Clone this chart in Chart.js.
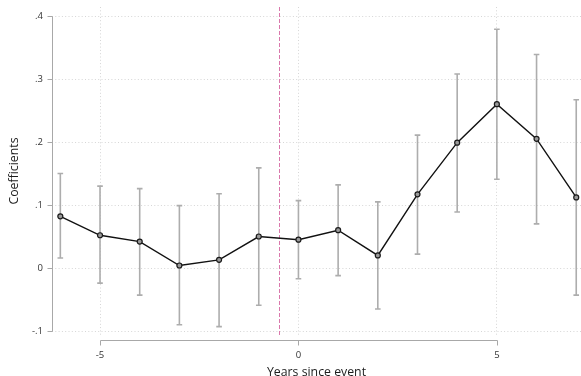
<!DOCTYPE html>
<html>
<head>
<meta charset="utf-8">
<script src="https://cdn.jsdelivr.net/npm/chart.js@4/dist/chart.umd.min.js"></script>
<style>
  html, body { margin: 0; padding: 0; background: #ffffff; }
  #wrap { width: 581px; height: 376px; position: relative; }
</style>
</head>
<body>
<div id="wrap"><canvas id="chart"></canvas></div>
<script>
// Event-study estimates by year relative to the event
const years     = [-6, -5, -4, -3, -2, -1, 0, 1, 2, 3, 4, 5, 6, 7];
const coef      = [0.082, 0.052, 0.042, 0.004, 0.013, 0.050, 0.045, 0.060, 0.020, 0.117, 0.199, 0.260, 0.205, 0.112];
const ciHigh    = [0.150, 0.130, 0.126, 0.099, 0.118, 0.159, 0.107, 0.132, 0.105, 0.211, 0.308, 0.379, 0.339, 0.267];
const ciLow     = [0.016, -0.024, -0.043, -0.090, -0.093, -0.059, -0.017, -0.012, -0.065, 0.022, 0.089, 0.141, 0.070, -0.043];

const xTicks      = [-5, 0, 5];
const xTickLabels = ['-5', '0', '5'];
const yTicks      = [-0.1, 0, 0.1, 0.2, 0.3, 0.4];
const yTickLabels = ['-.1', '0', '.1', '.2', '.3', '.4'];
const eventLine   = -0.5;

const FONT = "'Open Sans', 'DejaVu Sans', sans-serif";
const AXIS_COLOR = '#a8a8a8';

// Confidence-interval caps, the event marker and the short Stata-style axis lines
const decorations = {
  id: 'decorations',
  beforeDatasetsDraw(chart) {
    const { ctx, chartArea, scales: { x, y } } = chart;
    ctx.save();

    // vertical dashed line just before the event
    const ex = Math.round(x.getPixelForValue(eventLine)) + 0.5;
    ctx.strokeStyle = 'rgb(218, 120, 172)';
    ctx.lineWidth = 1;
    ctx.setLineDash([4, 2]);
    ctx.beginPath();
    ctx.moveTo(ex, chartArea.top);
    ctx.lineTo(ex, chartArea.bottom);
    ctx.stroke();
    ctx.setLineDash([]);

    // range caps
    ctx.strokeStyle = '#adadad';
    ctx.lineWidth = 1.6;
    const cap = 2.8;
    years.forEach((yr, i) => {
      const px = x.getPixelForValue(yr);
      const top = y.getPixelForValue(ciHigh[i]);
      const bot = y.getPixelForValue(ciLow[i]);
      ctx.beginPath();
      ctx.moveTo(px, top); ctx.lineTo(px, bot);
      ctx.moveTo(px - cap, top); ctx.lineTo(px + cap, top);
      ctx.moveTo(px - cap, bot); ctx.lineTo(px + cap, bot);
      ctx.stroke();
    });
    ctx.restore();
  },
  afterDraw(chart) {
    const { ctx, chartArea, scales: { x, y } } = chart;
    ctx.save();
    ctx.strokeStyle = AXIS_COLOR;
    ctx.lineWidth = 1;

    // y axis spans only the labelled range
    const ax = Math.round(chartArea.left) + 0.5;
    const yTop = Math.round(y.getPixelForValue(yTicks[yTicks.length - 1])) + 0.5;
    const yBot = Math.round(y.getPixelForValue(yTicks[0])) + 0.5;
    ctx.beginPath();
    ctx.moveTo(ax, yTop); ctx.lineTo(ax, yBot);
    yTicks.forEach(v => {
      const py = Math.round(y.getPixelForValue(v)) + 0.5;
      ctx.moveTo(ax - 5, py); ctx.lineTo(ax, py);
    });
    ctx.stroke();

    // x axis sits a little below the plot region
    const ay = Math.round(chartArea.bottom) + 5.5;
    const xL = Math.round(x.getPixelForValue(xTicks[0])) + 0.5;
    const xR = Math.round(x.getPixelForValue(xTicks[xTicks.length - 1])) + 0.5;
    ctx.beginPath();
    ctx.moveTo(xL, ay); ctx.lineTo(xR, ay);
    xTicks.forEach(v => {
      const px = Math.round(x.getPixelForValue(v)) + 0.5;
      ctx.moveTo(px, ay); ctx.lineTo(px, ay + 5);
    });
    ctx.stroke();
    ctx.restore();
  }
};

const gridStyle = { color: '#d6d6d6', lineWidth: 1, drawTicks: false };

new Chart(document.getElementById('chart'), {
  type: 'line',
  data: {
    datasets: [{
      data: years.map((yr, i) => ({ x: yr, y: coef[i] })),
      borderColor: '#111111',
      borderWidth: 1.4,
      pointRadius: 2.5,
      pointBorderWidth: 1.2,
      pointBorderColor: '#1a1a1a',
      pointBackgroundColor: '#9a9a9a',
      tension: 0,
      clip: false
    }]
  },
  options: {
    responsive: true,
    maintainAspectRatio: false,
    animation: false,
    devicePixelRatio: 1,
    layout: { autoPadding: false, padding: { top: 7, right: 0, bottom: 0, left: 0 } },
    plugins: { legend: { display: false }, tooltip: { enabled: false } },
    scales: {
      x: {
        type: 'linear',
        min: -6.21,
        max: 7.12,
        grid: gridStyle,
        border: { display: false, dash: [1, 2.3] },
        afterBuildTicks: s => { s.ticks = xTicks.map(v => ({ value: v })); },
        afterFit: s => { s.height = 41; s.paddingLeft = 0; s.paddingRight = 0; },
        ticks: {
          padding: 15,
          color: '#333333',
          font: { family: FONT, size: 9.5 },
          maxRotation: 0,
          callback: (v, i) => xTickLabels[i]
        },
        title: {
          display: true,
          text: 'Years since event',
          color: '#1c1c1c',
          font: { family: FONT, size: 12.3, lineHeight: 0.65 },
          padding: 0
        }
      },
      y: {
        type: 'linear',
        min: -0.1063,
        max: 0.4143,
        grid: gridStyle,
        border: { display: false, dash: [1, 2.3] },
        afterBuildTicks: s => { s.ticks = yTicks.map(v => ({ value: v })); },
        afterFit: s => { s.width = 52; s.paddingTop = 0; s.paddingBottom = 0; },
        ticks: {
          padding: 9,
          color: '#333333',
          font: { family: FONT, size: 9.5 },
          callback: (v, i) => yTickLabels[i]
        },
        title: {
          display: true,
          text: 'Coefficients',
          color: '#1c1c1c',
          font: { family: FONT, size: 12.3, lineHeight: 1 },
          padding: { top: 8, bottom: 0 }
        }
      }
    }
  },
  plugins: [decorations]
});
</script>
</body>
</html>
